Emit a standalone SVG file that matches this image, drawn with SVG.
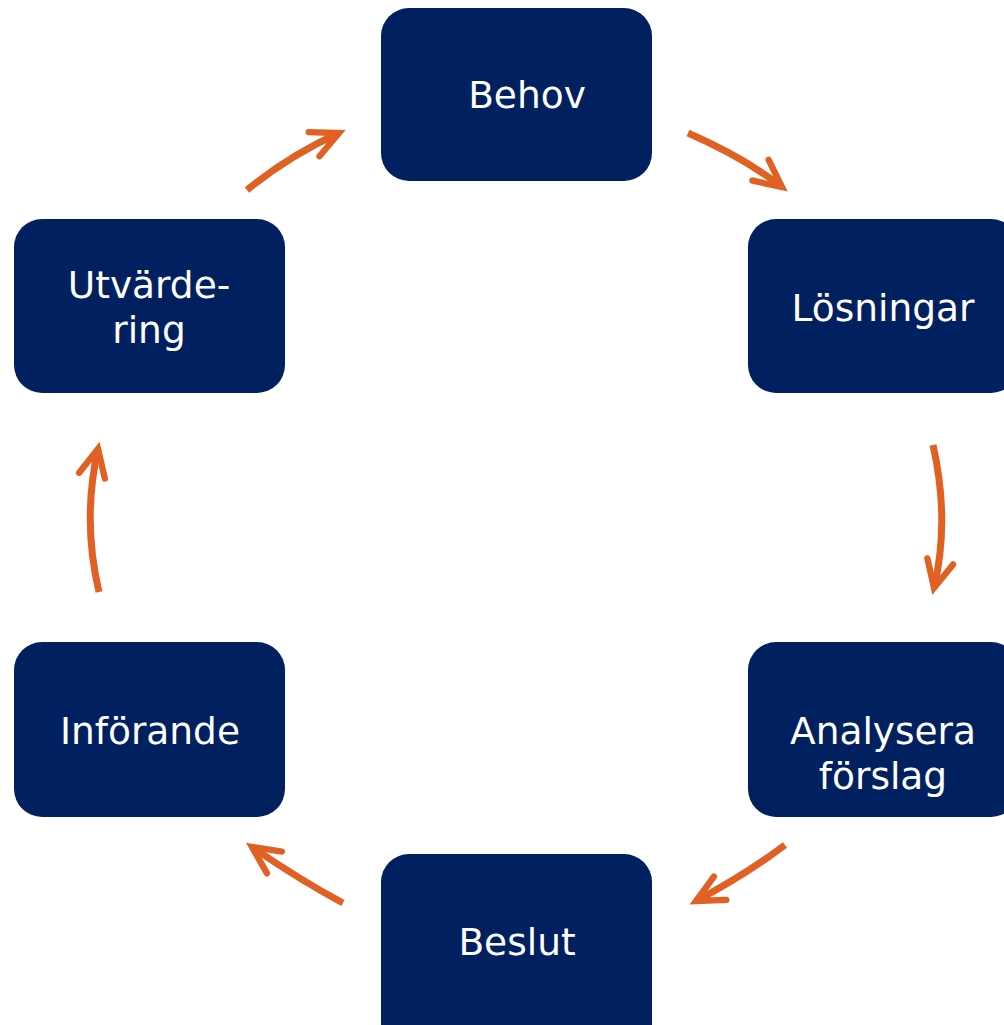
<svg xmlns="http://www.w3.org/2000/svg" width="1004" height="1025" viewBox="0 0 1004 1025">
<defs>
<style>
.box{fill:#002060;}
.lbl{fill:#ffffff;font-family:"DejaVu Sans","Verdana","Liberation Sans",sans-serif;font-size:37.5px;text-anchor:middle;}
.arr{fill:none;stroke:#E06123;stroke-width:7;marker-end:url(#head);}
</style>
<marker id="head" markerUnits="userSpaceOnUse" orient="auto" refX="0" refY="0" markerWidth="40" markerHeight="40" viewBox="-40 -20 44 40" overflow="visible">
<path d="M-30,-14.5 L0,0 L-30,14.5" fill="none" stroke="#E06123" stroke-width="7" stroke-linecap="round" stroke-linejoin="miter"/>
</marker>
</defs>
<rect width="1004" height="1025" fill="#ffffff"/>
<g id="connectors">
<path class="arr" d="M688,133 Q745,158 782,187"/>
<path class="arr" d="M933,445 Q950,520 934,588"/>
<path class="arr" d="M785,845 Q745,875 696,901"/>
<path class="arr" d="M343,903 Q300,880 252,847"/>
<path class="arr" d="M99,592 Q82,520 98,449"/>
<path class="arr" d="M247,190 Q290,155 339,133"/>
</g>
<g id="behov"><rect class="box" x="381" y="8" width="271" height="173" rx="28"/><text class="lbl" x="527" y="108">Behov</text></g>
<g id="losningar"><rect class="box" x="748" y="219" width="271" height="174" rx="28"/><text class="lbl" x="883" y="321">Lösningar</text></g>
<g id="analysera"><rect class="box" x="748" y="642" width="271" height="175" rx="28"/><text class="lbl" x="883" y="744">Analysera</text><text class="lbl" x="883" y="789">förslag</text></g>
<g id="beslut"><rect class="box" x="381" y="854" width="271" height="200" rx="28"/><text class="lbl" x="517" y="955">Beslut</text></g>
<g id="inforande"><rect class="box" x="14" y="642" width="271" height="175" rx="28"/><text class="lbl" x="150" y="744">Införande</text></g>
<g id="utvardering"><rect class="box" x="14" y="219" width="271" height="174" rx="28"/><text class="lbl" x="149" y="298">Utvärde-</text><text class="lbl" x="149" y="343">ring</text></g>
</svg>
